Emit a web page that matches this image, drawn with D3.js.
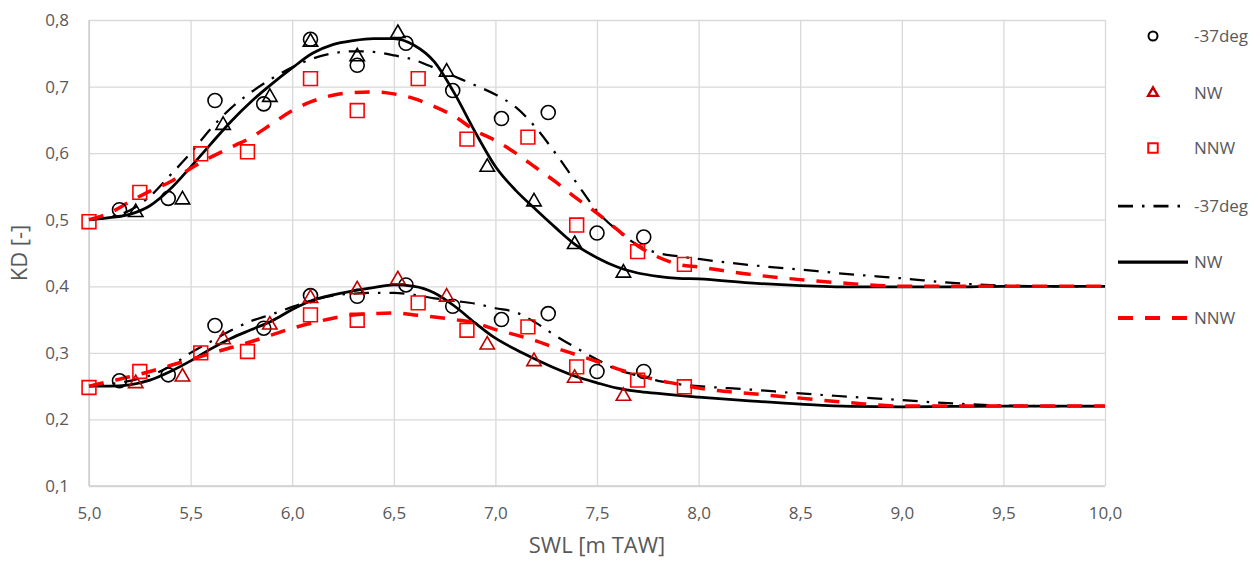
<!DOCTYPE html>
<html>
<head>
<meta charset="utf-8">
<script src="https://cdn.jsdelivr.net/npm/d3@7"></script>
<style>
  html, body { margin: 0; padding: 0; background: #fff; }
  svg { display: block; font-family: "Open Sans", "Noto Sans", sans-serif; }
</style>
</head>
<body>
<svg id="chart" width="1260" height="561"></svg>
<script>
// ---- measured points (SWL in m TAW, KD dimensionless) ----
const swlCircle   = [5.15, 5.39, 5.62, 5.86, 6.09, 6.32, 6.56, 6.79, 7.03, 7.26, 7.50, 7.73];
const kdCircleHi  = [0.515, 0.532, 0.679, 0.674, 0.771, 0.732, 0.765, 0.694, 0.652, 0.661, 0.480, 0.474];
const kdCircleLo  = [0.258, 0.267, 0.341, 0.337, 0.386, 0.385, 0.402, 0.370, 0.350, 0.359, 0.272, 0.272];

const swlTriangle = [5.23, 5.46, 5.66, 5.89, 6.09, 6.32, 6.52, 6.76, 6.96, 7.19, 7.39, 7.63];
const kdTriangleHi = [0.511, 0.530, 0.642, 0.684, 0.767, 0.745, 0.780, 0.722, 0.579, 0.527, 0.463, 0.420];
const kdTriangleLo = [0.254, 0.264, 0.320, 0.342, 0.382, 0.395, 0.410, 0.384, 0.312, 0.287, 0.262, 0.235];

const swlSquare   = [5.00, 5.25, 5.55, 5.78, 6.09, 6.32, 6.62, 6.86, 7.16, 7.40, 7.70, 7.93];
const kdSquareHi  = [0.497, 0.541, 0.599, 0.602, 0.712, 0.664, 0.712, 0.621, 0.624, 0.492, 0.452, 0.433];
const kdSquareLo  = [0.248, 0.272, 0.300, 0.302, 0.357, 0.349, 0.375, 0.334, 0.339, 0.279, 0.259, 0.249];

// ---- fitted curves, sampled on a common SWL grid ----
const swlFit = [5.0, 5.1, 5.2, 5.3, 5.4, 5.5, 5.6, 5.7, 5.8, 5.9,
                6.0, 6.1, 6.2, 6.3, 6.4, 6.5, 6.6, 6.7, 6.8, 6.9,
                7.0, 7.1, 7.2, 7.3, 7.4, 7.5, 7.6, 7.7, 7.8, 7.9,
                8.0, 8.25, 8.5, 8.75, 9.0, 9.25, 9.5, 9.75, 10.0];

const fit37Hi  = [0.500, 0.504, 0.514, 0.535, 0.567, 0.600, 0.637, 0.668, 0.692, 0.712,
                  0.729, 0.742, 0.750, 0.753, 0.752, 0.747, 0.740, 0.728, 0.715, 0.702,
                  0.688, 0.669, 0.638, 0.598, 0.555, 0.513, 0.484, 0.462, 0.450, 0.445,
                  0.441, 0.432, 0.425, 0.418, 0.412, 0.405, 0.401, 0.400, 0.400];
const fitNWHi  = [0.500, 0.503, 0.508, 0.521, 0.546, 0.579, 0.614, 0.648, 0.678, 0.704,
                  0.728, 0.750, 0.763, 0.769, 0.772, 0.772, 0.762, 0.737, 0.689, 0.632,
                  0.580, 0.544, 0.515, 0.487, 0.461, 0.443, 0.429, 0.420, 0.415, 0.412,
                  0.411, 0.405, 0.401, 0.399, 0.399, 0.399, 0.400, 0.400, 0.400];
const fitNNWHi = [0.500, 0.510, 0.527, 0.543, 0.557, 0.577, 0.594, 0.609, 0.624, 0.644,
                  0.664, 0.678, 0.687, 0.691, 0.692, 0.689, 0.682, 0.670, 0.655, 0.634,
                  0.619, 0.600, 0.578, 0.556, 0.532, 0.510, 0.485, 0.461, 0.444, 0.433,
                  0.429, 0.418, 0.410, 0.404, 0.400, 0.400, 0.400, 0.400, 0.400];

const fit37Lo  = [0.250, 0.253, 0.258, 0.266, 0.280, 0.300, 0.317, 0.334, 0.348, 0.358,
                  0.369, 0.379, 0.386, 0.389, 0.390, 0.390, 0.387, 0.382, 0.378, 0.374,
                  0.367, 0.361, 0.345, 0.325, 0.307, 0.290, 0.275, 0.266, 0.258, 0.253,
                  0.250, 0.245, 0.239, 0.234, 0.229, 0.224, 0.221, 0.220, 0.220];
const fitNWLo  = [0.250, 0.250, 0.252, 0.259, 0.272, 0.288, 0.306, 0.322, 0.335, 0.348,
                  0.365, 0.379, 0.387, 0.393, 0.398, 0.402, 0.400, 0.390, 0.370, 0.345,
                  0.322, 0.305, 0.290, 0.276, 0.264, 0.255, 0.247, 0.242, 0.239, 0.236,
                  0.2335, 0.228, 0.223, 0.2195, 0.219, 0.2195, 0.220, 0.220, 0.220];
const fitNNWLo = [0.250, 0.257, 0.264, 0.272, 0.281, 0.290, 0.299, 0.308, 0.317, 0.327,
                  0.337, 0.345, 0.352, 0.357, 0.359, 0.360, 0.357, 0.354, 0.350, 0.345,
                  0.335, 0.327, 0.318, 0.307, 0.297, 0.287, 0.276, 0.267, 0.259, 0.253,
                  0.247, 0.239, 0.232, 0.225, 0.220, 0.220, 0.220, 0.220, 0.220];

// ---- axis ticks ----
const xTicks = [5.0, 5.5, 6.0, 6.5, 7.0, 7.5, 8.0, 8.5, 9.0, 9.5, 10.0];
const yTicks = [0.1, 0.2, 0.3, 0.4, 0.5, 0.6, 0.7, 0.8];

const seriesNames = ["-37deg", "NW", "NNW"];

// ---- layout ----
const svg = d3.select("#chart");
const plot = { left: 89, right: 1105, top: 20, bottom: 486 };
const x = d3.scaleLinear().domain([5, 10]).range([plot.left, plot.right]);
const y = d3.scaleLinear().domain([0.1, 0.8]).range([plot.bottom, plot.top]);
const fmt = d => d.toFixed(1).replace(".", ",");

const GRID = "#d9d9d9", TEXT = "#595959";
const BLACK = "#000000", RED = "#ff0000", DARKRED = "#c00000";

// gridlines
svg.append("g")
  .attr("transform", `translate(0,${plot.bottom})`)
  .call(d3.axisBottom(x).tickValues(xTicks).tickSize(-(plot.bottom - plot.top)).tickFormat(""))
  .call(g => g.select(".domain").remove())
  .call(g => g.selectAll("line").attr("stroke", GRID).attr("stroke-width", 1.3));
svg.append("g")
  .attr("transform", `translate(${plot.left},0)`)
  .call(d3.axisLeft(y).tickValues(yTicks).tickSize(-(plot.right - plot.left)).tickFormat(""))
  .call(g => g.select(".domain").remove())
  .call(g => g.selectAll("line").attr("stroke", GRID).attr("stroke-width", 1.3));

// axis lines
svg.append("line").attr("x1", plot.left).attr("x2", plot.left)
  .attr("y1", plot.top).attr("y2", plot.bottom).attr("stroke", "#cfcfcf").attr("stroke-width", 1.5);
svg.append("line").attr("x1", plot.left).attr("x2", plot.right)
  .attr("y1", plot.bottom).attr("y2", plot.bottom).attr("stroke", "#cfcfcf").attr("stroke-width", 1.5);

// tick labels
svg.append("g")
  .attr("transform", `translate(0,${plot.bottom})`)
  .call(d3.axisBottom(x).tickValues(xTicks).tickSize(0).tickPadding(21).tickFormat(fmt))
  .call(g => g.select(".domain").remove())
  .call(g => g.selectAll("text").attr("fill", TEXT).style("font-size", "17px")
      .style("font-family", '"Open Sans", sans-serif'));
svg.append("g")
  .attr("transform", `translate(${plot.left},0)`)
  .call(d3.axisLeft(y).tickValues(yTicks).tickSize(0).tickPadding(20).tickFormat(fmt))
  .call(g => g.select(".domain").remove())
  .call(g => g.selectAll("text").attr("fill", TEXT).style("font-size", "17px")
      .style("font-family", '"Open Sans", sans-serif'));

// axis titles
svg.append("text").attr("x", (plot.left + plot.right) / 2).attr("y", 553)
  .attr("text-anchor", "middle").attr("fill", TEXT).style("font-size", "22px")
  .text("SWL [m TAW]");
svg.append("text").attr("transform", `translate(27,${(plot.top + plot.bottom) / 2}) rotate(-90)`)
  .attr("text-anchor", "middle").attr("fill", TEXT).style("font-size", "22px")
  .text("KD [-]");

// ---- fitted curves ----
const line = d3.line().x(d => x(d[0])).y(d => y(d[1])).curve(d3.curveMonotoneX);
const lineStyles = {
  "-37deg": { stroke: BLACK, width: 2.25, dash: "15,9,2.5,9" },
  "NW":     { stroke: BLACK, width: 2.75, dash: null },
  "NNW":    { stroke: RED,   width: 3.5,  dash: "15,12" }
};
const curves = [
  { name: "-37deg", values: fit37Hi }, { name: "NW", values: fitNWHi }, { name: "NNW", values: fitNNWHi },
  { name: "-37deg", values: fit37Lo }, { name: "NW", values: fitNWLo }, { name: "NNW", values: fitNNWLo }
];
const curveG = svg.append("g").attr("fill", "none");
curves.forEach(c => {
  const st = lineStyles[c.name];
  curveG.append("path")
    .datum(swlFit.map((s, i) => [s, c.values[i]]))
    .attr("d", line)
    .attr("stroke", st.stroke)
    .attr("stroke-width", st.width)
    .attr("stroke-dasharray", st.dash);
});

// ---- measured markers ----
const tri = d3.symbol().type(d3.symbolTriangle).size(90);
const sq = d3.symbol().type(d3.symbolSquare).size(190);
const markerG = svg.append("g").attr("fill", "none");

function drawCircles(xs, ys, color) {
  markerG.selectAll(null).data(xs.map((s, i) => [s, ys[i]])).join("circle")
    .attr("cx", d => x(d[0])).attr("cy", d => y(d[1])).attr("r", 7)
    .attr("stroke", color).attr("stroke-width", 1.6);
}
function drawSymbols(xs, ys, gen, color) {
  markerG.selectAll(null).data(xs.map((s, i) => [s, ys[i]])).join("path")
    .attr("d", gen).attr("transform", d => `translate(${x(d[0])},${y(d[1])})`)
    .attr("stroke", color).attr("stroke-width", 1.6);
}
drawCircles(swlCircle, kdCircleHi, BLACK);
drawCircles(swlCircle, kdCircleLo, BLACK);
drawSymbols(swlTriangle, kdTriangleHi, tri, BLACK);
drawSymbols(swlTriangle, kdTriangleLo, tri, DARKRED);
drawSymbols(swlSquare, kdSquareHi, sq, RED);
drawSymbols(swlSquare, kdSquareLo, sq, RED);

// ---- legend ----
const legend = svg.append("g");
const legendRows = [36, 93, 148, 206, 262, 318];
const textX = 1194;
// marker entries
legend.append("circle").attr("cx", 1153).attr("cy", legendRows[0]).attr("r", 4.5)
  .attr("fill", "none").attr("stroke", BLACK).attr("stroke-width", 2);
legend.append("path").attr("d", d3.symbol().type(d3.symbolTriangle).size(42))
  .attr("transform", `translate(1153,${legendRows[1]})`)
  .attr("fill", "none").attr("stroke", DARKRED).attr("stroke-width", 2.4);
legend.append("path").attr("d", d3.symbol().type(d3.symbolSquare).size(90))
  .attr("transform", `translate(1153,${legendRows[2]})`)
  .attr("fill", "none").attr("stroke", RED).attr("stroke-width", 2);
// line entries
seriesNames.forEach((n, i) => {
  const st = lineStyles[n];
  legend.append("line").attr("x1", 1118).attr("x2", 1188)
    .attr("y1", legendRows[3 + i]).attr("y2", legendRows[3 + i])
    .attr("stroke", st.stroke).attr("stroke-width", st.width + 0.5)
    .attr("stroke-dasharray", st.dash);
});
// labels
seriesNames.concat(seriesNames).forEach((n, i) => {
  legend.append("text").attr("x", textX).attr("y", legendRows[i])
    .attr("dy", "0.35em").attr("fill", TEXT).style("font-size", "17px").text(n);
});
</script>
</body>
</html>
